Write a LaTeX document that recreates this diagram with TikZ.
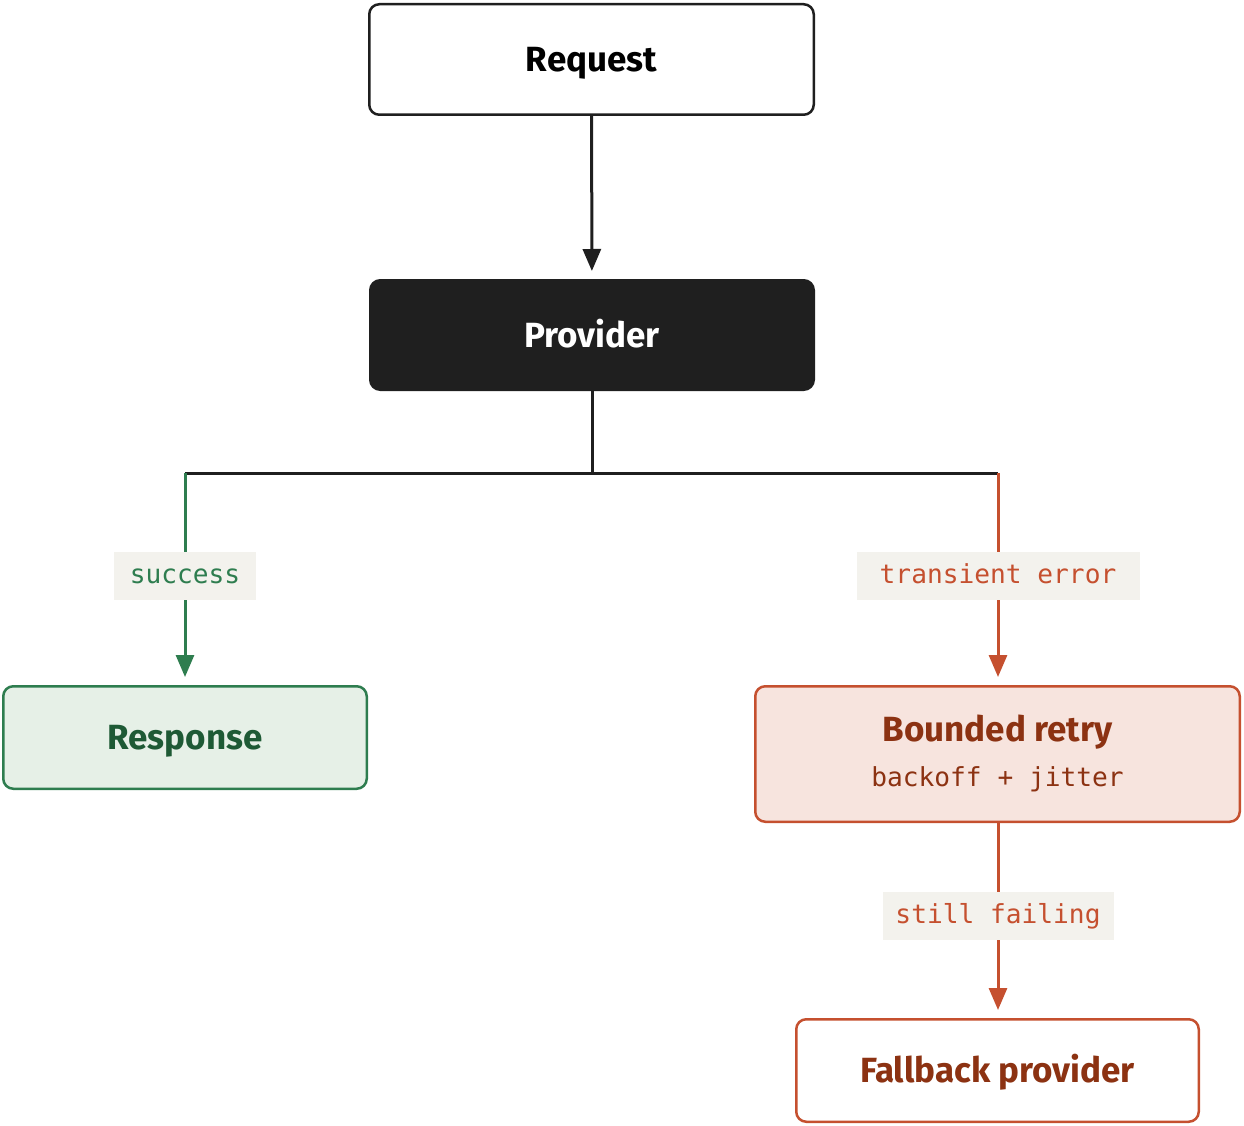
\documentclass[tikz,border=0pt]{standalone}
\usepackage{fontspec}
\setmainfont{Fira Sans}
\setmonofont{DejaVu Sans Mono}
\usetikzlibrary{arrows.meta}
\definecolor{ink}{HTML}{1F1F1F}
\definecolor{grn}{HTML}{2E7D4F}
\definecolor{grntext}{HTML}{1E5A35}
\definecolor{grnfill}{HTML}{E6F0E7}
\definecolor{org}{HTML}{C5502F}
\definecolor{orgtext}{HTML}{8C3212}
\definecolor{orgfill}{HTML}{F7E4DE}
\definecolor{lblfill}{HTML}{F3F2ED}
\tikzset{
  box/.style={draw, line width=2.5pt, rounded corners=10pt, inner sep=0pt,
    font=\fontsize{35}{40}\selectfont\bfseries, text height=24pt, text depth=0pt},
  boxtext/.style={inner sep=0pt, font=\fontsize{35}{40}\selectfont\bfseries, text height=24pt, text depth=0pt},
  subtext/.style={inner sep=0pt, font=\fontsize{26.2}{30}\selectfont\ttfamily},
  lbl/.style={fill=lblfill, inner sep=0pt, minimum height=48pt, text height=15.6pt, text depth=0pt,
    font=\fontsize{26.2}{30}\selectfont\ttfamily},
  conn/.style={line width=3pt},
  arr/.style={conn, -{Triangle[length=22pt,width=18pt]}, shorten >=8pt},
}
\begin{document}
\begin{tikzpicture}[x=1pt,y=-1pt]
\useasboundingbox (0,0) rectangle (1244,1126);
\node[box, draw=ink, fill=white, text=black, minimum width=444.5pt, minimum height=110.5pt] (req) at (591.5,59.5) {Request};
\node[box, draw=ink, fill=ink, text=white, minimum width=443.5pt, minimum height=109.5pt] (prov) at (592,335) {Provider};
\node[box, draw=grn, fill=grnfill, text=grntext, minimum width=363.5pt, minimum height=102.5pt] (resp) at (185,737.5) {Response};
\node[box, draw=org, fill=orgfill, minimum width=484.5pt, minimum height=135.5pt] (retry) at (997.5,754) {};
\node[boxtext, text=orgtext] (retrytitle) at (997.5,729.7) {Bounded retry};
\node[subtext, text=orgtext, anchor=base] (retrysub) at (997.5,786.7) {backoff + jitter};
\node[box, draw=org, fill=white, text=orgtext, minimum width=402.5pt, minimum height=102.5pt] (fall) at (997.5,1070.5) {Fallback provider};
\coordinate (j) at (592,473);
\coordinate (jl) at (185,473);
\coordinate (jr) at (998,473);
\draw[arr, ink] (req) -- (prov);
\draw[conn, ink] (prov) -- (j);
\draw[conn, ink] (jl) -- (jr);
\draw[arr, grn] (jl) -- node[lbl, text=grn, pos=0.485, minimum width=142pt] (lsucc) {success} (resp.north -| jl);
\draw[arr, org] (jr) -- node[lbl, text=org, pos=0.485, minimum width=283pt] (ltrans) {transient error} (retry.north -| jr);
\draw[arr, org] (retry.south -| jr) -- node[lbl, text=org, pos=0.477, minimum width=231pt] (lfail) {still failing} (fall.north -| jr);
\end{tikzpicture}
\end{document}
